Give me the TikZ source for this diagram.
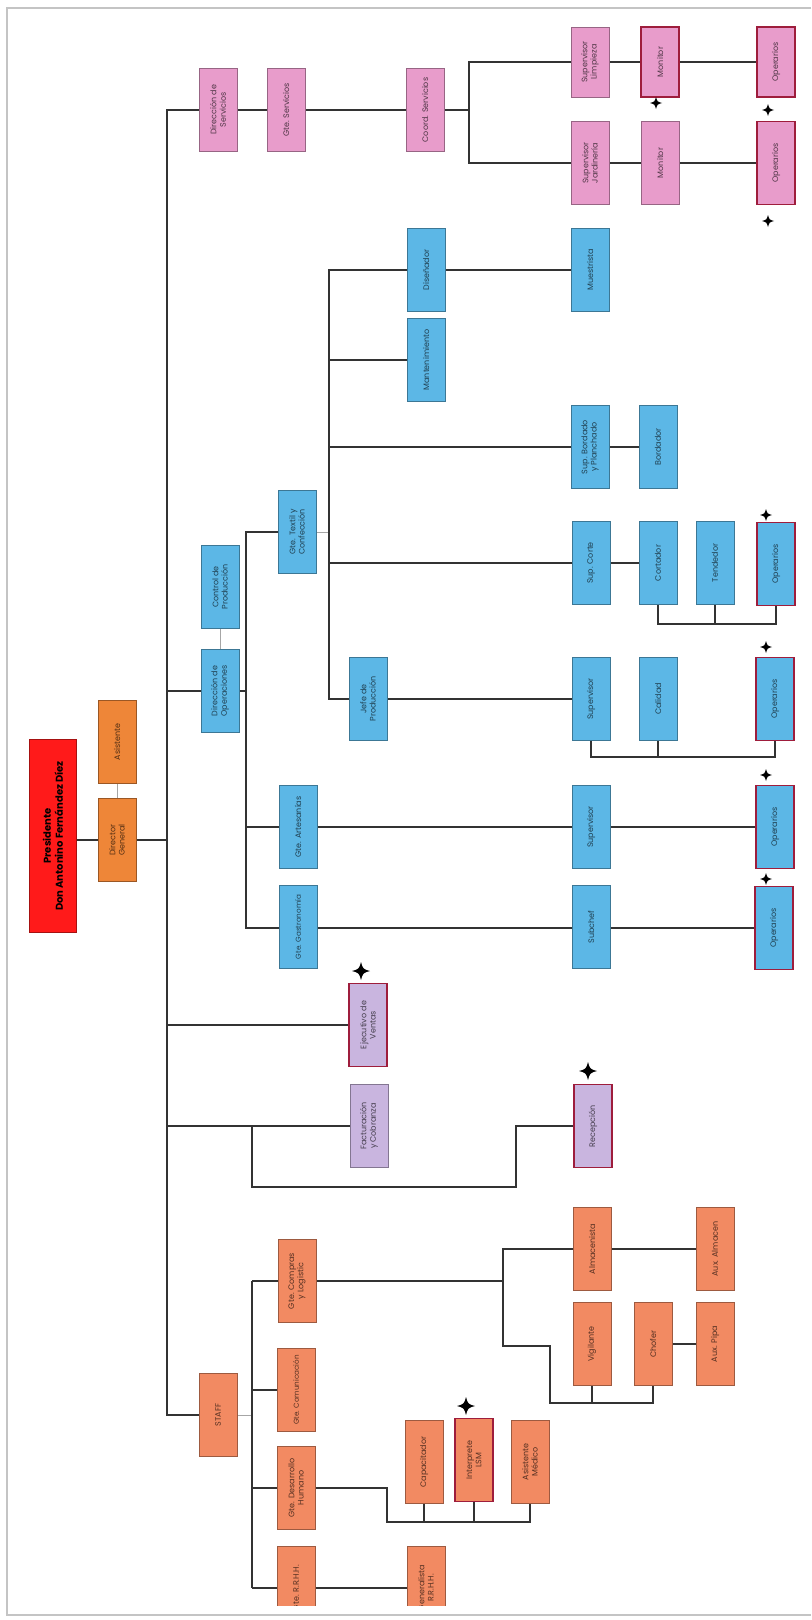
\documentclass[tikz,border=0pt]{standalone}
\usepackage{fontspec}
\setmainfont{Poppins}
\usepackage{tikz}
\usetikzlibrary{calc}
\usetikzlibrary{backgrounds}
\definecolor{orgc}{HTML}{EE8638}
\definecolor{salc}{HTML}{F28A62}
\definecolor{bluc}{HTML}{5CB7E6}
\definecolor{pnkc}{HTML}{E89CCB}
\definecolor{lavc}{HTML}{C9B5DF}
\definecolor{presc}{HTML}{FF1A1A}
\definecolor{hotred}{HTML}{9E1D3C}
\definecolor{linec}{HTML}{333333}
\definecolor{framec}{HTML}{C4C4C4}
\tikzset{
 box/.style={draw=#1!65!black, fill=#1, rotate=90, minimum width=62pt, minimum height=28.5pt,
  inner sep=1pt, align=center, text=#1!35!black, font=\fontsize{6}{7}\selectfont},
 short/.style={minimum width=52.5pt},
 tight/.style={font=\fontsize{5.4}{6.5}\selectfont},
 hot/.style={draw=hotred, line width=1pt},
 wire/.style={draw=linec, line width=1pt},
 faint/.style={draw=gray!70, line width=.6pt},
 spark/.pic={\fill[black] (0,-1) .. controls (0.22,-0.22) .. (1,0) .. controls (0.22,0.22) .. (0,1)
  .. controls (-0.22,0.22) .. (-1,0) .. controls (-0.22,-0.22) .. cycle;}
}

\begin{document}
\begin{tikzpicture}[x=0.75pt, y=-0.75pt]
\useasboundingbox (0,0) rectangle (811,1620);
\draw[framec, line width=1.2pt] (811,8) -- (7,8) -- (7,1615) -- (811,1615);

% direccion
\node[box=presc, minimum width=145pt, minimum height=35pt, text=black, font=\fontsize{7.5}{9}\selectfont\bfseries] (pres) at (53,836) {Presidente\\Don Antonino Fernández Díez};
\node[box=orgc] (asis) at (117,742) {Asistente};
\node[box=orgc] (dgen) at (117,840) {Director\\General};

% servicios
\node[box=pnkc] (dserv) at (218,110) {Dirección de\\Servicios};
\node[box=pnkc] (gserv) at (286,110) {Gte. Servicios};
\node[box=pnkc] (cserv) at (425,110) {Coord. Servicios};
\node[box=pnkc, short] (suplim) at (590,62) {Supervisor\\Limpieza};
\node[box=pnkc, short, hot] (moni1) at (660,62) {Monitor};
\node[box=pnkc, short, hot] (oper1) at (776,62) {Operarios};
\node[box=pnkc] (supjar) at (590,163) {Supervisor\\Jardinería};
\node[box=pnkc] (moni2) at (660,163) {Monitor};
\node[box=pnkc, hot] (oper2) at (776,163) {Operarios};

% operaciones
\node[box=bluc] (disen) at (426,270) {Diseñador};
\node[box=bluc] (muest) at (590,270) {Muestrista};
\node[box=bluc] (mant) at (426,360) {Mantenimiento};
\node[box=bluc] (supbor) at (590,447) {Sup. Bordado\\y Planchado};
\node[box=bluc] (bord) at (658,447) {Bordador};
\node[box=bluc] (gtext) at (297,532) {Gte. Textil y\\Confección};
\node[box=bluc] (supcor) at (591,563) {Sup. Corte};
\node[box=bluc] (cort) at (658,563) {Cortador};
\node[box=bluc] (tend) at (715,563) {Tendedor};
\node[box=bluc, hot] (oper3) at (776,564) {Operarios};
\node[box=bluc] (ctrl) at (220,587) {Control de\\Producción};
\node[box=bluc] (dope) at (220,691) {Dirección de\\Operaciones};
\node[box=bluc] (jefe) at (368,699) {Jefe de\\Producción};
\node[box=bluc] (supjefe) at (591,699) {Supervisor};
\node[box=bluc] (cali) at (658,699) {Calidad};
\node[box=bluc, hot] (oper4) at (775,699) {Operarios};
\node[box=bluc] (gart) at (298,827) {Gte. Artesanías};
\node[box=bluc] (supart) at (591,827) {Supervisor};
\node[box=bluc, hot] (oper5) at (775,827) {Operarios};
\node[box=bluc, tight] (ggas) at (298,927) {Gte. Gastronomía};
\node[box=bluc] (subch) at (591,927) {Subchef};
\node[box=bluc, hot] (oper6) at (774,928) {Operarios};

% ventas
\node[box=lavc, hot] (ejec) at (368,1025) {Ejecutivo de\\Ventas};
\node[box=lavc] (fact) at (369,1126) {Facturación\\y Cobranza};
\node[box=lavc, hot] (recep) at (593,1126) {Recepción};

% staff
\node[box=salc] (staff) at (218,1415) {STAFF};
\node[box=salc] (gcomp) at (297,1281) {Gte. Compras\\y Logistic};
\node[box=salc] (almac) at (592,1249) {Almacenista};
\node[box=salc] (auxal) at (715,1249) {Aux. Almacen};
\node[box=salc] (vigil) at (592,1344) {Vigilante};
\node[box=salc] (chof) at (653,1344) {Chofer};
\node[box=salc] (auxpi) at (715,1344) {Aux. Pipa};
\node[box=salc, tight] (gcom) at (296,1390) {Gte. Comunicación};
\node[box=salc] (gdes) at (296,1488) {Gte. Desarrollo\\Humano};
\node[box=salc] (capac) at (424,1462) {Capacitador};
\node[box=salc, hot] (interp) at (474,1460) {Interprete\\LSM};
\node[box=salc] (asmed) at (530,1462) {Asistente\\Médico};
\begin{scope}
\clip (0,0) rectangle (811,1605);
\node[box=salc] (grrhh) at (296,1588) {Gte. R.R.H.H.};
\node[box=salc] (gener) at (426,1588) {Generalista\\R.R.H.H.};
\end{scope}

\coordinate (tk) at (167,1415);
\coordinate (c1) at (469,0);
\coordinate (c2) at (329,0);
\coordinate (c3) at (246,0);
\coordinate (c4) at (252,0);
\coordinate (c5) at (516,1187);
\coordinate (c6) at (503,0);
\coordinate (c7) at (550,1346);
\coordinate (c8) at (387,1522);
\coordinate (b1) at (0,624);
\coordinate (b2) at (0,757);
\coordinate (b3) at (0,1403);

\begin{pgfonlayer}{background}
% tronco
\draw[wire] (gserv.center) -- (dserv.center) -| (tk) -- (staff.center);
\draw[wire] (pres.center |- dgen.center) -- (dgen.center) -- (dgen.center -| tk);
\draw[faint] (asis) -- (dgen);
\foreach \n in {dope,ejec,fact}
 \draw[wire] (\n.center) -- (\n.center -| tk);

% servicios
\draw[wire] (gserv.center) -- (cserv.center) -| (c1 |- suplim.center) -- (oper1.center);
\draw[wire] (cserv.center -| c1) |- (oper2.center);

% operaciones
\draw[faint] (ctrl) -- (dope);
\draw[wire] (dope.center) -| (c3 |- gtext.center) -- (gtext.center);
\draw[wire] (dope.center -| c3) |- (oper6.center);
\draw[wire] (gart.center -| c3) -- (oper5.center);
\draw[faint] (gtext.center) -- (gtext.center -| c2);
\draw[wire] (muest.center) -- (disen.center) -| (c2 |- jefe.center) -- (supjefe.center);
\draw[wire] (mant.center) -- (mant.center -| c2);
\draw[wire] (bord.center) -- (supbor.center -| c2);
\draw[wire] (cort.center) -- (supcor.center -| c2);
\draw[wire] (cort.center) -- (cort.center |- b1) -| (oper3.center);
\draw[wire] (tend.center) -- (tend.center |- b1);
\draw[wire] (supjefe.center) |- (b2 -| oper4.center) -- (oper4.center);
\draw[wire] (cali.center) -- (cali.center |- b2);

% ventas
\draw[wire] (fact.center -| c4) |- (c5) |- (recep.center);

% staff
\draw[faint] (staff.center) -- (staff.center -| c4);
\draw[wire] (gcomp.center -| c4) -- (grrhh.center -| c4);
\foreach \n in {gcomp,gcom,gdes}
 \draw[wire] (\n.center) -- (\n.center -| c4);
\draw[wire] (gener.center) -- (grrhh.center -| c4);
\draw[wire] (gcomp.center) -| (c6 |- almac.center) -- (auxal.center);
\draw[wire] (gcomp.center -| c6) |- (c7) |- (chof.center |- b3) -- (chof.center);
\draw[wire] (vigil.center) -- (vigil.center |- b3);
\draw[wire] (chof.center) -- (auxpi.center);
\draw[wire] (gdes.center) -| (c8) -| (asmed.center);
\draw[wire] (capac.center) -- (capac.center |- c8);
\draw[wire] (interp.center) -- (interp.center |- c8);
\end{pgfonlayer}

% marcas
\foreach \p in {(656,103),(768,110),(768,221),(766,515),(766,647),(766,775),(766,879)}
 \pic[scale=6] at \p {spark};
\pic[scale=9] at (361,971) {spark};
\pic[scale=9] at (588,1071) {spark};
\pic[scale=9] at (466,1406) {spark};
\end{tikzpicture}
\end{document}
